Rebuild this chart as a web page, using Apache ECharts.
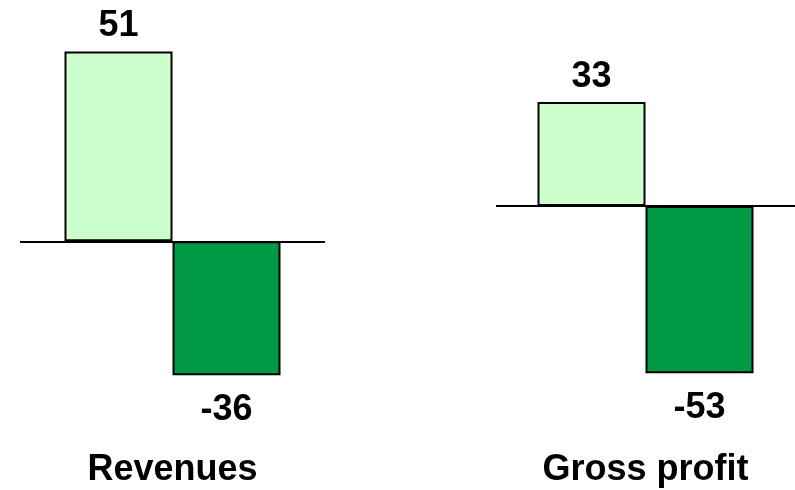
<!DOCTYPE html>
<html>
<head>
<meta charset="utf-8">
<script src="https://cdn.jsdelivr.net/npm/echarts@6/dist/echarts.min.js"></script>
<style>
  html, body { margin: 0; padding: 0; background: #fff; }
  #chart { width: 795px; height: 490px; }
</style>
</head>
<body>
<div id="chart"></div>
<script>
// Panel categories and the two bars shown in each panel
const categories = ['Revenues', 'Gross profit'];
const increaseValues = [51, 33];
const decreaseValues = [-36, -53];

// Each panel has its own vertical scale
const axisRanges = [
  { min: -52.07, max: 60.83 },
  { min: -72.58, max: 60.54 }
];
const gridBoxes = [
  { left: 20, width: 305, top: 15, bottom: 55 },
  { left: 496, width: 299, top: 15, bottom: 55 }
];

const textFont = {
  fontFamily: 'Liberation Sans, Arial, Helvetica, sans-serif',
  fontWeight: 'bold',
  fontSize: 36,
  color: '#000'
};

const grids = [], xAxes = [], yAxes = [], series = [];
categories.forEach((name, i) => {
  grids.push(Object.assign({ containLabel: false }, gridBoxes[i]));
  xAxes.push({
    type: 'category',
    gridIndex: i,
    data: [name],
    position: 'bottom',
    axisLine: { show: false, onZero: false },
    axisTick: { show: false },
    axisLabel: Object.assign({ margin: 17 }, textFont),
    splitLine: { show: false }
  });
  yAxes.push({
    type: 'value',
    gridIndex: i,
    min: axisRanges[i].min,
    max: axisRanges[i].max,
    show: false,
    splitLine: { show: false }
  });
  series.push({
    type: 'bar',
    xAxisIndex: i,
    yAxisIndex: i,
    data: [increaseValues[i]],
    barWidth: 108,
    barGap: '0%',
    itemStyle: { color: '#CCFFCC', borderColor: '#000', borderWidth: 2 },
    label: Object.assign({ show: true, position: 'top', distance: 7 }, textFont),
    markLine: {
      silent: true,
      symbol: ['none', 'none'],
      label: { show: false },
      lineStyle: { color: '#000', width: 2, type: 'solid' },
      data: [{ yAxis: 0 }],
      animation: false
    }
  });
  series.push({
    type: 'bar',
    xAxisIndex: i,
    yAxisIndex: i,
    data: [decreaseValues[i]],
    barWidth: 108,
    barGap: '0%',
    itemStyle: { color: '#009A44', borderColor: '#000', borderWidth: 2 },
    label: Object.assign({ show: true, position: 'bottom', distance: 17 }, textFont)
  });
});

const chart = echarts.init(document.getElementById('chart'), null, { renderer: 'canvas' });
chart.setOption({
  animation: false,
  backgroundColor: '#fff',
  grid: grids,
  xAxis: xAxes,
  yAxis: yAxes,
  series: series
});
</script>
</body>
</html>
